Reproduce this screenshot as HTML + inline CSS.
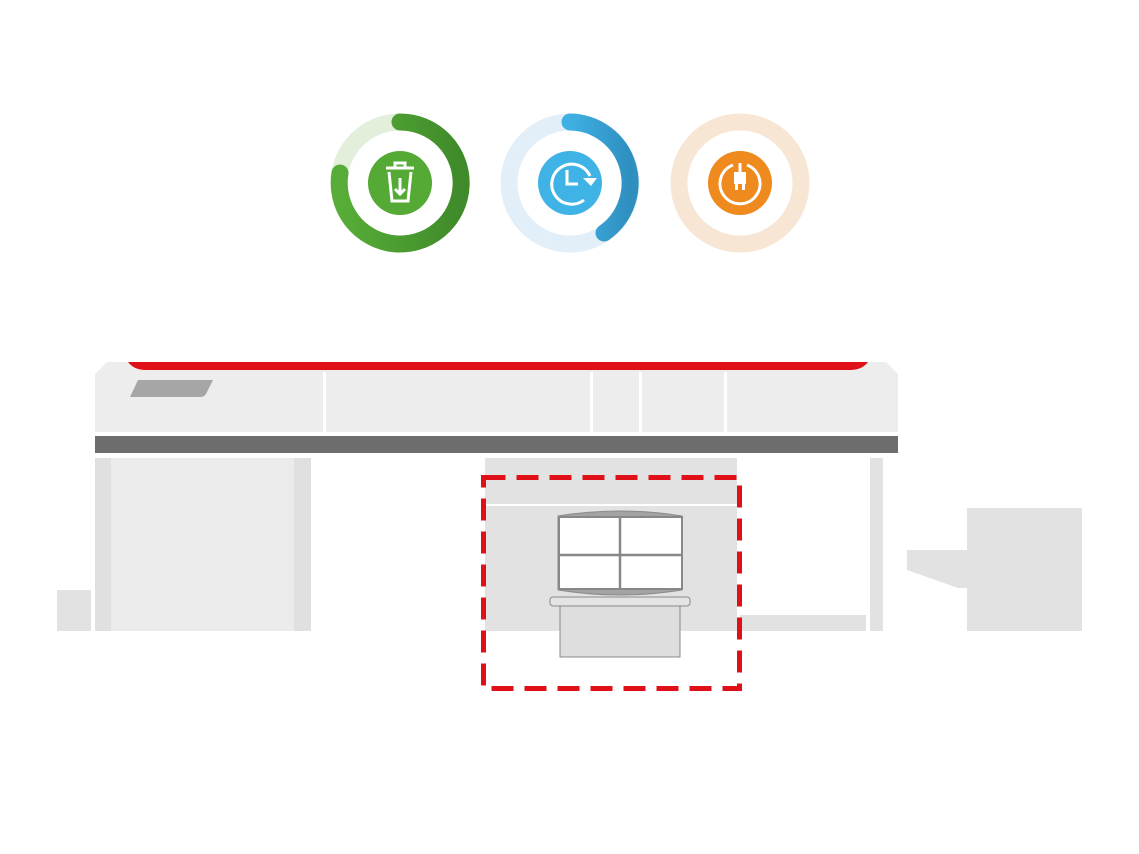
<!DOCTYPE html>
<html><head><meta charset="utf-8"><style>html,body{margin:0;padding:0;background:#fff}svg{display:block}</style></head>
<body>
<svg width="1139" height="854" viewBox="0 0 1139 854" xmlns="http://www.w3.org/2000/svg">
<defs>
<linearGradient id="gg" x1="0" x2="1"><stop offset="0" stop-color="#58ad38"/><stop offset="1" stop-color="#3f8a2a"/></linearGradient>
<linearGradient id="bg" x1="0" x2="1"><stop offset="0" stop-color="#3fb0e3"/><stop offset="1" stop-color="#2f8fbf"/></linearGradient>
</defs>
<circle cx="400" cy="183" r="61" fill="none" stroke="#e3eedb" stroke-width="17"/>
<path d="M400 122 A61 61 0 1 1 340 173" fill="none" stroke="url(#gg)" stroke-width="17" stroke-linecap="round"/>
<circle cx="400" cy="183" r="32" fill="#55a935"/>
<g fill="none" stroke="#fff" stroke-width="3"><path d="M389 172 L392 201 H408 L411 172"/><path d="M386 168 H414"/><path d="M395 168 V163 H405 V168"/><path d="M400 178 V194 M395 189 L400 194 L405 189"/></g>
<circle cx="570" cy="183" r="61" fill="none" stroke="#e2eef8" stroke-width="17"/>
<path d="M570 122 A61 61 0 0 1 604 233" fill="none" stroke="url(#bg)" stroke-width="17" stroke-linecap="round"/>
<circle cx="570" cy="183" r="32" fill="#3fb3e6"/>
<g fill="none" stroke="#fff" stroke-width="3"><path d="M590 176 A20 20 0 1 0 584 200"/><path d="M567 170 V184 H578"/></g>
<path d="M583 178 L597 178 L591 186 Z" fill="#fff"/>
<circle cx="740" cy="183" r="61" fill="none" stroke="#f8e6d4" stroke-width="17"/>
<circle cx="740" cy="183" r="32" fill="#ef8a1f"/>
<g fill="none" stroke="#fff" stroke-width="3"><path d="M733 165 A20 20 0 1 0 747 165"/><path d="M740 163 V173"/></g>
<rect x="734" y="172" width="12" height="12" fill="#fff"/><rect x="735" y="184" width="3" height="6" fill="#fff"/><rect x="742" y="184" width="3" height="6" fill="#fff"/>
<path d="M107 362 H886 L898 374 V432 H95 V374 Z" fill="#ededed"/>
<path d="M128 362 H868 Q862 370 850 370 H146 Q134 370 128 362 Z" fill="#e01018"/>
<g fill="#fff"><rect x="323" y="372" width="3" height="60"/><rect x="590" y="372" width="3" height="60"/><rect x="639" y="372" width="3" height="60"/><rect x="724" y="372" width="3" height="60"/></g>
<path d="M138 380 H213 L206 394 Q204 397 200 397 H130 Z" fill="#a6a6a6"/>
<rect x="95" y="436" width="803" height="17" fill="#6d6d6d"/>
<rect x="95" y="458" width="216" height="173" fill="#ebebeb"/>
<rect x="95" y="458" width="16" height="173" fill="#e0e0e0"/>
<rect x="294" y="458" width="17" height="173" fill="#e0e0e0"/>
<rect x="57" y="590" width="34" height="41" fill="#e2e2e2"/>
<rect x="485" y="458" width="252" height="173" fill="#e2e2e2"/>
<rect x="485" y="504" width="252" height="2" fill="#fff"/>
<rect x="740" y="615" width="126" height="16" fill="#e2e2e2"/>
<rect x="870" y="458" width="13" height="173" fill="#e2e2e2"/>
<rect x="967" y="508" width="115" height="123" fill="#e2e2e2"/>
<path d="M907 550 H967 V588 H958 L907 570 Z" fill="#e2e2e2"/>
<path d="M558 516 Q620 506 682 516 V590 Q620 600 558 590 Z" fill="#a3a3a3" stroke="#8a8a8a"/>
<rect x="559" y="517" width="123" height="72" fill="#fff" stroke="#888" stroke-width="2"/>
<path d="M620 517 V589 M559 555 H682" stroke="#888" stroke-width="2.5"/>
<rect x="550" y="597" width="140" height="9" rx="3" fill="#e4e4e4" stroke="#888"/>
<rect x="560" y="606" width="120" height="51" fill="#dedede" stroke="#888"/>
<rect x="483.5" y="477.5" width="256" height="211" fill="none" stroke="#e01018" stroke-width="5" stroke-dasharray="22 11"/>
</svg>
</body></html>
